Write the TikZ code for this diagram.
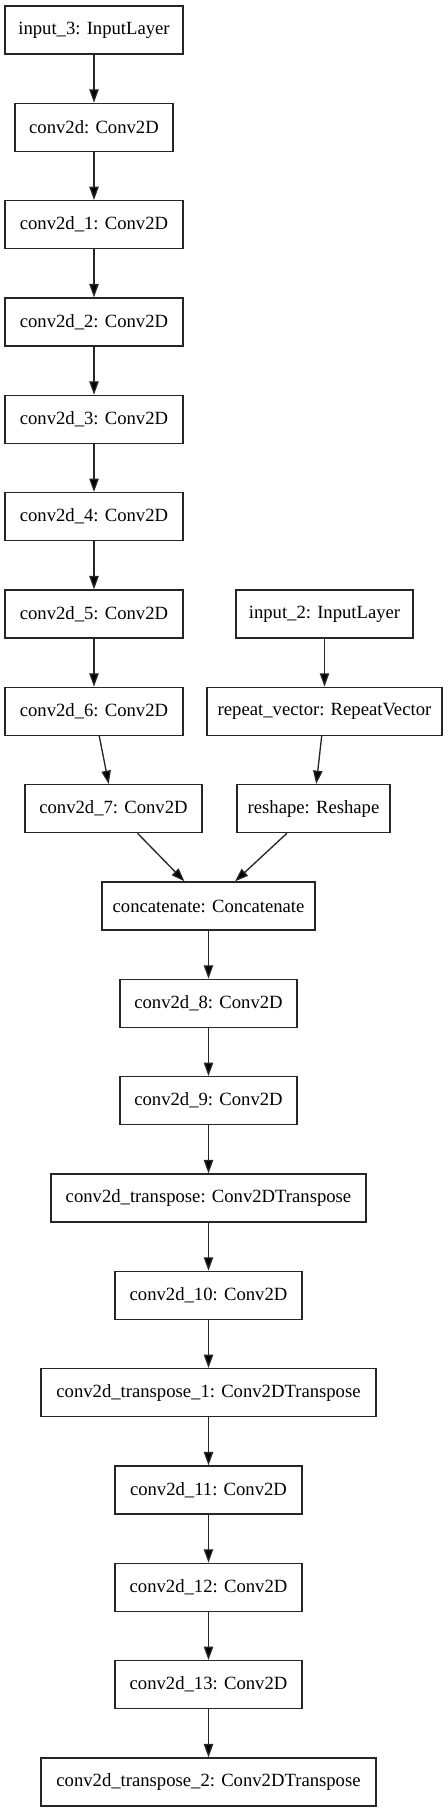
\documentclass[tikz,border=0pt]{standalone}
\usepackage{fontspec}
\setmainfont{Liberation Serif}
\usetikzlibrary{arrows.meta}
\begin{document}
\begin{tikzpicture}[x=0.75pt,y=-0.75pt,
  layer/.style={draw=black!85,line width=1pt,rectangle,minimum height=36pt,inner sep=0pt,font=\fontsize{14pt}{16pt}\selectfont},
  arr/.style={draw=black!85,line width=1pt,-{Triangle[length=10pt,width=7pt,fill=black]}}]
\useasboundingbox (0,0) rectangle (447,1812);
\def\ry#1{30+97.33*#1}
\node[layer,minimum width=178*0.75pt] (in3) at (94,{\ry{0}}) {input\_3: InputLayer};
\node[layer,minimum width=158*0.75pt] (c0) at (94,{\ry{1}}) {conv2d: Conv2D};
\node[layer,minimum width=178*0.75pt] (c1) at (94,{\ry{2}}) {conv2d\_1: Conv2D};
\node[layer,minimum width=178*0.75pt] (c2) at (94,{\ry{3}}) {conv2d\_2: Conv2D};
\node[layer,minimum width=178*0.75pt] (c3) at (94,{\ry{4}}) {conv2d\_3: Conv2D};
\node[layer,minimum width=178*0.75pt] (c4) at (94,{\ry{5}}) {conv2d\_4: Conv2D};
\node[layer,minimum width=178*0.75pt] (c5) at (94,{\ry{6}}) {conv2d\_5: Conv2D};
\node[layer,minimum width=178*0.75pt] (c6) at (94,{\ry{7}}) {conv2d\_6: Conv2D};
\node[layer,minimum width=177*0.75pt] (c7) at (113.5,{\ry{8}}) {conv2d\_7: Conv2D};
\node[layer,minimum width=177*0.75pt] (in2) at (324.5,{\ry{6}}) {input\_2: InputLayer};
\node[layer,minimum width=235*0.75pt] (rv) at (324.5,{\ry{7}}) {repeat\_vector: RepeatVector};
\node[layer,minimum width=153*0.75pt] (rs) at (313.5,{\ry{8}}) {reshape: Reshape};
\node[layer,minimum width=213*0.75pt] (cc) at (208.5,{\ry{9}}) {concatenate: Concatenate};
\node[layer,minimum width=177*0.75pt] (c8) at (208.5,{\ry{10}}) {conv2d\_8: Conv2D};
\node[layer,minimum width=177*0.75pt] (c9) at (208.5,{\ry{11}}) {conv2d\_9: Conv2D};
\node[layer,minimum width=315*0.75pt] (t0) at (208.5,{\ry{12}}) {conv2d\_transpose: Conv2DTranspose};
\node[layer,minimum width=187*0.75pt] (c10) at (208.5,{\ry{13}}) {conv2d\_10: Conv2D};
\node[layer,minimum width=335*0.75pt] (t1) at (208.5,{\ry{14}}) {conv2d\_transpose\_1: Conv2DTranspose};
\node[layer,minimum width=187*0.75pt] (c11) at (208.5,{\ry{15}}) {conv2d\_11: Conv2D};
\node[layer,minimum width=187*0.75pt] (c12) at (208.5,{\ry{16}}) {conv2d\_12: Conv2D};
\node[layer,minimum width=187*0.75pt] (c13) at (208.5,{\ry{17}}) {conv2d\_13: Conv2D};
\node[layer,minimum width=335*0.75pt] (t2) at (208.5,{\ry{18}}) {conv2d\_transpose\_2: Conv2DTranspose};
\draw[arr] (in3) -- (c0);
\draw[arr] (c0) -- (c1);
\draw[arr] (c1) -- (c2);
\draw[arr] (c2) -- (c3);
\draw[arr] (c3) -- (c4);
\draw[arr] (c4) -- (c5);
\draw[arr] (c5) -- (c6);
\draw[arr] (c6.-78) -- (c7.101);
\draw[arr] (in2) -- (rv);
\draw[arr] (rv) -- (rs);
\draw[arr] (c7) -- (cc);
\draw[arr] (rs) -- (cc);
\draw[arr] (cc) -- (c8);
\draw[arr] (c8) -- (c9);
\draw[arr] (c9) -- (t0);
\draw[arr] (t0) -- (c10);
\draw[arr] (c10) -- (t1);
\draw[arr] (t1) -- (c11);
\draw[arr] (c11) -- (c12);
\draw[arr] (c12) -- (c13);
\draw[arr] (c13) -- (t2);
\end{tikzpicture}
\end{document}
